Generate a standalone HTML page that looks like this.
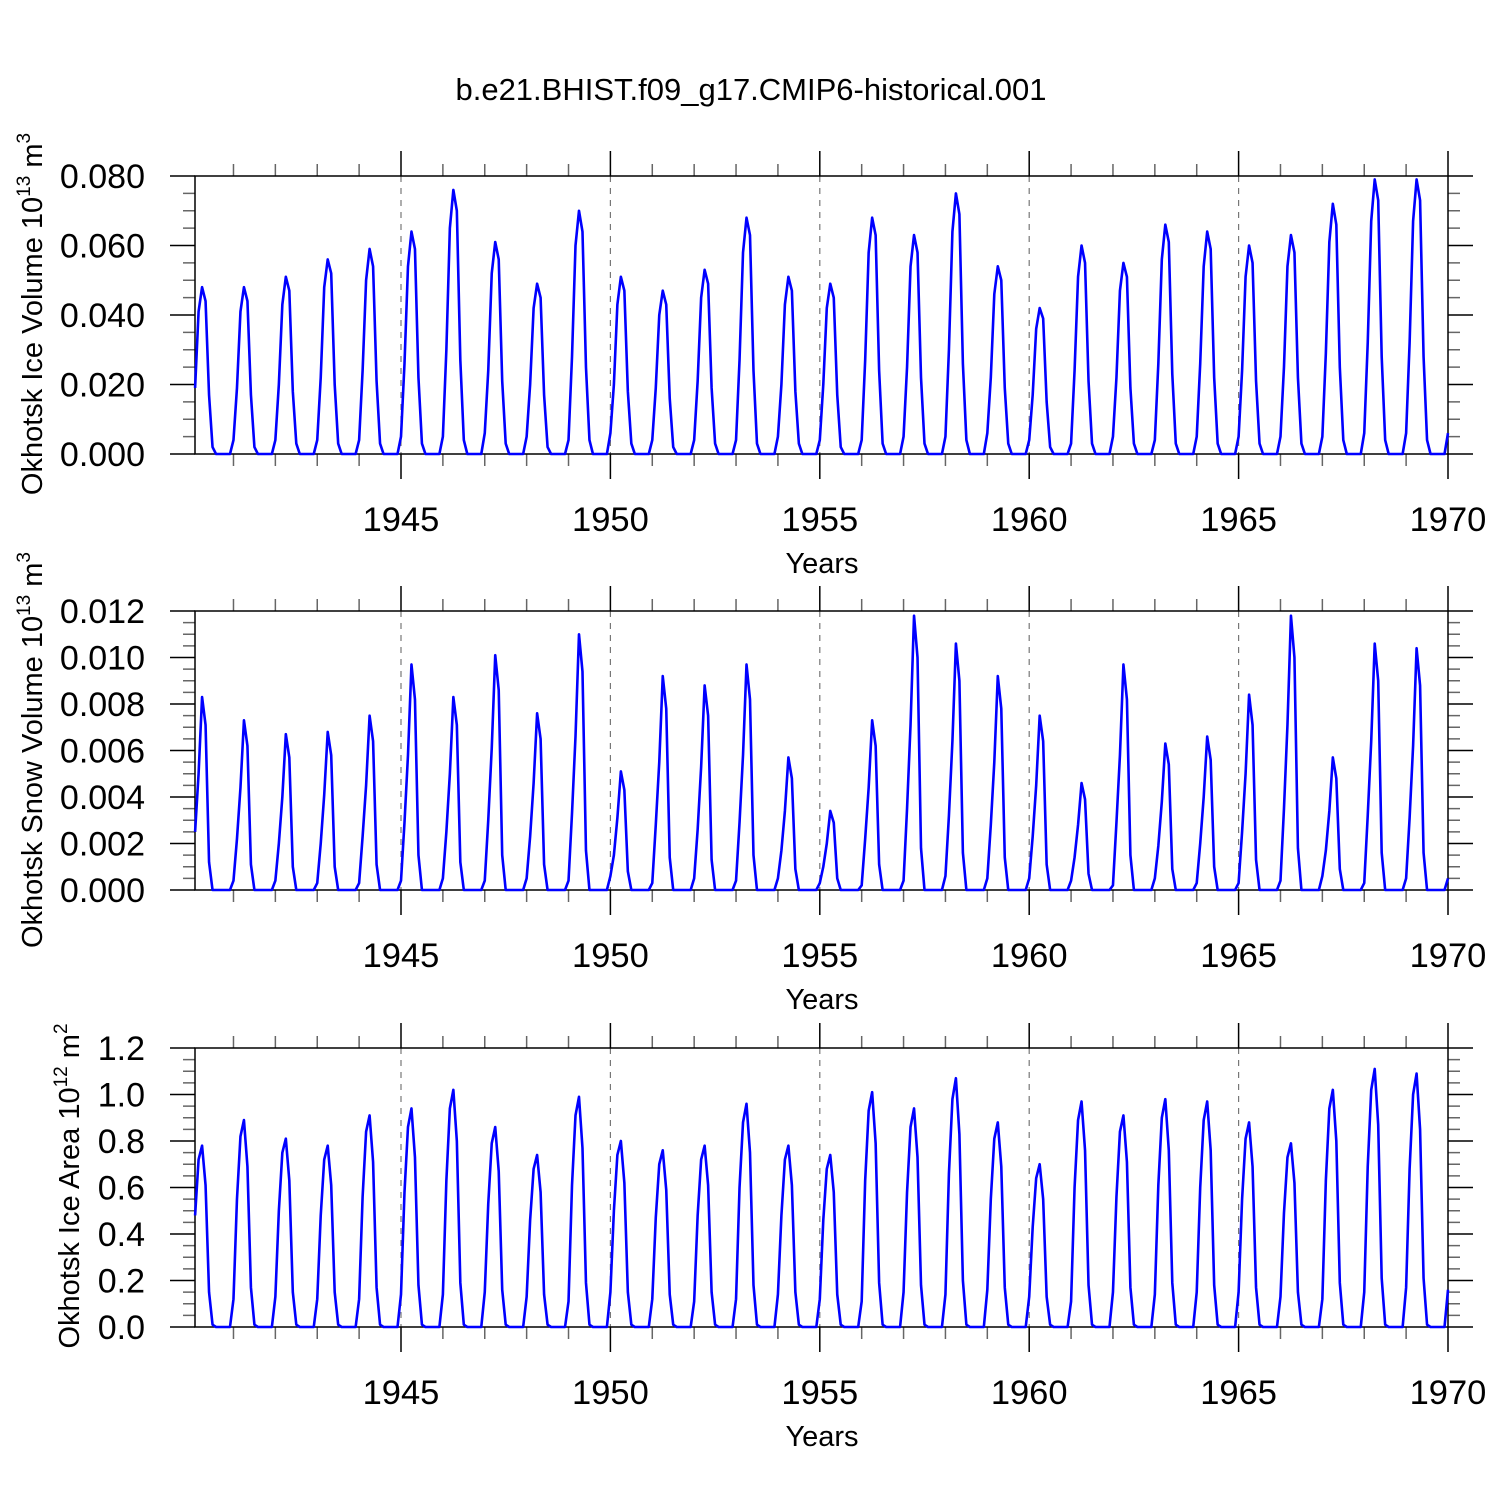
<!DOCTYPE html>
<html><head><meta charset="utf-8"><style>
html,body{margin:0;padding:0;background:#fff}
svg{display:block}
text{font-family:"Liberation Sans",sans-serif;fill:#000}
</style></head><body>
<svg id="chart" width="1500" height="1500" viewBox="0 0 1500 1500" xmlns="http://www.w3.org/2000/svg">
<text x="751" y="100" font-size="31" text-anchor="middle">b.e21.BHIST.f09_g17.CMIP6-historical.001</text>
</svg>
<script>
// Monthly values per year: [Jan,Feb,Mar,Apr,May,Jun,Dec]; Jul-Nov are zero.
const years = [1940,1941,1942,1943,1944,1945,1946,1947,1948,1949,1950,1951,1952,1953,1954,1955,1956,1957,1958,1959,1960,1961,1962,1963,1964,1965,1966,1967,1968,1969];
const xTicks = [1945,1950,1955,1960,1965,1970];
// ice volume, units 1e-3 (x 10^13 m^3)
const iceVol = [
[19,41,48,44,17,2,4],[19,41,48,44,17,2,4],[20,43,51,47,18,3,4],[22,48,56,52,20,3,4],[24,50,59,54,21,3,5],
[26,54,64,59,22,3,5],[30,65,76,70,27,4,6],[24,52,61,56,21,3,5],[20,42,49,45,17,2,4],[28,60,70,64,25,4,6],
[20,43,51,47,18,3,4],[19,40,47,43,16,2,4],[21,45,53,49,19,3,4],[27,58,68,63,24,3,5],[20,43,51,47,18,3,4],
[20,42,49,45,17,2,4],[27,58,68,63,24,3,5],[25,54,63,58,22,3,5],[30,64,75,69,26,4,6],[22,46,54,50,19,3,4],
[17,36,42,39,15,2,3],[24,51,60,55,21,3,5],[22,47,55,51,19,3,4],[26,56,66,61,23,3,5],[26,54,64,59,22,3,5],
[24,51,60,55,21,3,5],[25,54,63,58,22,3,5],[29,61,72,66,25,4,6],[32,67,79,73,28,4,6],[32,67,79,73,28,4,6]];
// snow volume, units 1e-4
const snowVol = [
[25,50,83,71,12,0,4],[22,44,73,62,11,0,4],[20,40,67,57,10,0,3],[20,41,68,58,10,0,3],[23,45,75,64,11,0,4],
[29,58,97,82,15,0,5],[25,50,83,71,12,0,4],[30,61,101,86,15,0,5],[23,46,76,65,11,0,4],[33,66,110,94,17,0,6],
[15,31,51,43,8,0,3],[28,55,92,78,14,0,5],[26,53,88,75,13,0,4],[29,58,97,82,15,0,5],[17,34,57,48,9,0,3],
[10,20,34,29,5,0,2],[22,44,73,62,11,0,4],[35,71,118,100,18,0,6],[32,64,106,90,16,0,5],[28,55,92,78,14,0,5],
[23,45,75,64,11,0,4],[14,28,46,39,7,0,2],[29,58,97,82,15,0,5],[19,38,63,54,9,0,3],[20,40,66,56,10,0,3],
[25,50,84,71,13,0,4],[35,71,118,100,18,0,6],[17,34,57,48,9,0,3],[32,64,106,90,16,0,5],[31,62,104,88,16,0,5]];
// ice area, units 1e-2
const iceArea = [
[48,72,78,61,15,1,12],[55,82,89,69,17,1,13],[50,75,81,63,15,1,12],[48,72,78,61,15,1,12],[56,84,91,71,17,1,14],
[58,86,94,73,18,1,14],[63,94,102,80,19,1,15],[53,79,86,67,16,1,13],[46,68,74,58,14,1,11],[61,91,99,77,19,1,15],
[50,74,80,62,15,1,12],[47,70,76,59,14,1,11],[48,72,78,61,15,1,12],[60,88,96,75,18,1,14],[48,72,78,61,15,1,12],
[46,68,74,58,14,1,11],[63,93,101,79,19,1,15],[58,86,94,73,18,1,14],[66,98,107,83,20,1,16],[55,81,88,69,17,1,13],
[43,64,70,55,13,1,11],[60,89,97,76,18,1,15],[56,84,91,71,17,1,14],[61,90,98,76,19,1,15],[60,89,97,76,18,1,15],
[55,81,88,69,17,1,13],[49,73,79,62,15,1,12],[63,94,102,80,19,1,15],[69,102,111,87,21,1,17],[68,100,109,85,21,1,16]];
const iceVolTicks = ["0.000","0.020","0.040","0.060","0.080"];
const snowTicks = ["0.000","0.002","0.004","0.006","0.008","0.010","0.012"];
const areaTicks = ["0.0","0.2","0.4","0.6","0.8","1.0","1.2"];

const NS="http://www.w3.org/2000/svg";
const svg=document.getElementById('chart');
function mk(tag,attrs,parent){const e=document.createElementNS(NS,tag);for(const k in attrs)e.setAttribute(k,attrs[k]);(parent||svg).appendChild(e);return e;}
const L=195,R=1448;
function xs(t){return 401+(t-1945)*(R-401)/25;}

function panel(cfg){
  const g=mk('g',{});
  
  
  const T=cfg.top,B=cfg.bot,ymax=cfg.ymax;
  const ys=v=>B-(v/ymax)*(B-T);
  for(const yr of xTicks){ if(yr>=1970)continue;
    const gl=mk('line',{x1:xs(yr),x2:xs(yr),y1:T,y2:B,stroke:'#777','stroke-width':1.2,'stroke-dasharray':'6,6'},g);
    
    
  }
  for(let yr=1941;yr<=1970;yr++){
    const maj=yr%5===0, len=maj?25:12;
    const c=maj?'#000':'#666';
    mk('line',{x1:xs(yr),x2:xs(yr),y1:T,y2:T-len,stroke:c,'stroke-width':1.5},g);
    mk('line',{x1:xs(yr),x2:xs(yr),y1:B,y2:B+len,stroke:c,'stroke-width':1.5},g);
  }
  xTicks.forEach(yr=>{
    const t=mk('text',{x:xs(yr),y:B+77,'font-size':34.5,'text-anchor':'middle'},g);
    t.textContent=yr;
    
    
  });
  const xt=mk('text',{x:822,y:B+119,'font-size':29,'text-anchor':'middle'},g);
  xt.textContent='Years';
  
  
  const n=cfg.ticks.length-1, step=ymax/n;
  for(let i=0;i<=n*4;i++){
    const v=i*step/4, y=ys(v), maj=i%4===0, len=maj?25:12, c=maj?'#000':'#666';
    mk('line',{x1:L,x2:L-len,y1:y,y2:y,stroke:c,'stroke-width':1.5},g);
    mk('line',{x1:R,x2:R+len,y1:y,y2:y,stroke:c,'stroke-width':1.5},g);
  }
  cfg.ticks.forEach((lab,i)=>{
    const t=mk('text',{x:145,y:ys(i*step)+12,'font-size':34,'text-anchor':'end'},g);
    t.textContent=lab;
    
    
  });
  mk('rect',{x:L,y:T,width:R-L,height:B-T,fill:'none',stroke:'#000','stroke-width':1.5},g);
  const pts=[];
  cfg.data.forEach((row,yi)=>{
    const monthly=[row[0],row[1],row[2],row[3],row[4],row[5],0,0,0,0,0,row[6]];
    monthly.forEach((v,m)=>{
      const t=years[yi]+(m+1)/12;
      pts.push(xs(t).toFixed(2)+','+ys(v*cfg.unit).toFixed(2));
    });
  });
  const pl=mk('polyline',{points:pts.join(' '),fill:'none',stroke:'#0000ff','stroke-width':2.6,'stroke-linejoin':'round'},g);
  
  
  const yt=mk('text',{transform:`translate(${cfg.tx},${cfg.ty}) rotate(-90)`,'font-size':29,'text-anchor':'middle'},g);
  
  
  yt.innerHTML=cfg.title+' 10<tspan dy="-12" font-size="19">'+cfg.exp+'</tspan><tspan dy="12"> m</tspan><tspan dy="-12" font-size="19">'+cfg.pw+'</tspan>';
}
panel({name:'ice-volume-panel',top:176,bot:454,ymax:0.08,unit:1e-3,data:iceVol,ticks:iceVolTicks,tx:42,ty:314,title:'Okhotsk Ice Volume',exp:'13',pw:'3'});
panel({name:'snow-volume-panel',top:611,bot:890,ymax:0.012,unit:1e-4,data:snowVol,ticks:snowTicks,tx:42,ty:750,title:'Okhotsk Snow Volume',exp:'13',pw:'3'});
panel({name:'ice-area-panel',top:1048,bot:1327,ymax:1.2,unit:1e-2,data:iceArea,ticks:areaTicks,tx:79,ty:1186,title:'Okhotsk Ice Area',exp:'12',pw:'2'});
</script>
</body></html>
